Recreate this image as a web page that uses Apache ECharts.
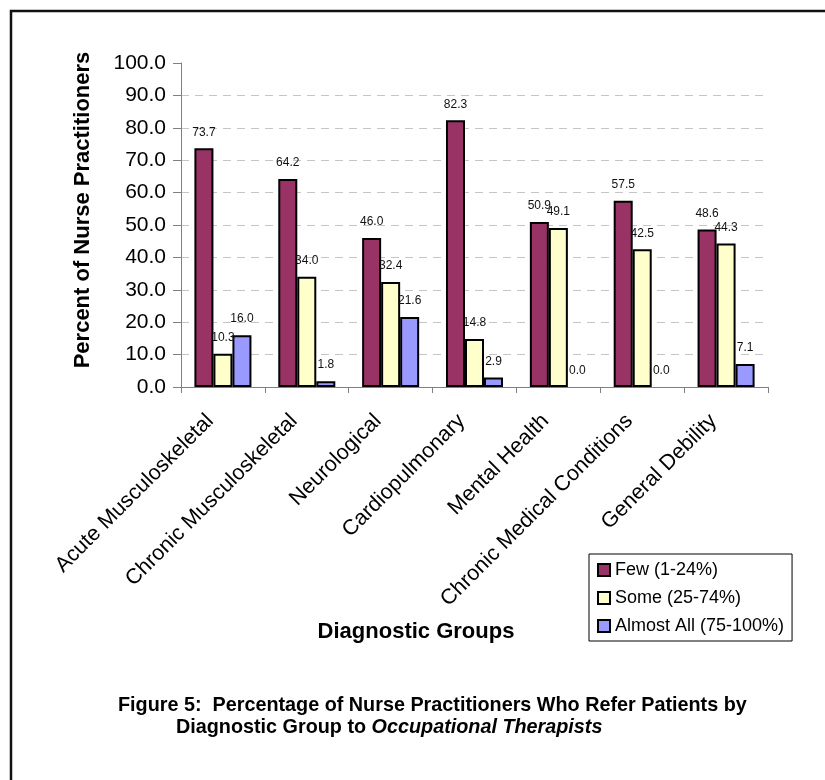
<!DOCTYPE html>
<html>
<head>
<meta charset="utf-8">
<script src="https://cdn.jsdelivr.net/npm/echarts@6/dist/echarts.min.js"></script>
<style>
  html, body { margin: 0; padding: 0; background: #fff; }
  #chart { width: 825px; height: 780px; }
</style>
</head>
<body>
<div id="chart"></div>
<script>
// Diagnostic groups on the category axis
const categories = [
  'Acute Musculoskeletal',
  'Chronic Musculoskeletal',
  'Neurological',
  'Cardiopulmonary',
  'Mental Health',
  'Chronic Medical Conditions',
  'General Debility'
];

// Share of nurse practitioners (%) by how many patients they refer
const seriesNames = ['Few (1-24%)', 'Some (25-74%)', 'Almost All (75-100%)'];
const few       = [73.7, 64.2, 46.0, 82.3, 50.9, 57.5, 48.6];
const some      = [10.3, 34.0, 32.4, 14.8, 49.1, 42.5, 44.3];
const almostAll = [16.0, 1.8, 21.6, 2.9, 0.0, 0.0, 7.1];

// Value axis range and step
const yMin = 0;
const yMax = 100;
const yStep = 10;

const yTitle = 'Percent of Nurse Practitioners';
const xTitle = 'Diagnostic Groups';
const captionLine1 = 'Figure 5:  Percentage of Nurse Practitioners Who Refer Patients by';
const captionLine2a = 'Diagnostic Group to ';
const captionLine2b = 'Occupational Therapists';

const FONT = '"Liberation Sans", Arial, Helvetica, sans-serif';
const colors = ['#993366', '#FFFFCC', '#9999FF'];

function makeSeries(name, values, color) {
  return {
    name: name,
    type: 'bar',
    barGap: '0%',
    barCategoryGap: '32%',
    itemStyle: { color: color, borderColor: '#000', borderWidth: 2 },
    label: {
      show: true,
      position: 'top',
      distance: 10,
      fontFamily: FONT,
      fontSize: 12,
      color: '#111',
      formatter: p => Number(p.value).toFixed(1)
    },
    // zero-height bars get no outline, only their label
    data: values.map(v => v === 0 ? { value: v, itemStyle: { borderWidth: 0 } } : v)
  };
}

const chart = echarts.init(document.getElementById('chart'), null, { renderer: 'canvas' });

chart.setOption({
  backgroundColor: '#fff',
  animation: false,
  textStyle: { fontFamily: FONT },
  grid: { left: 181, right: 57, top: 63, bottom: 393, containLabel: false },
  legend: {
    orient: 'vertical',
    left: 589,
    top: 554,
    padding: [7, 8, 6, 8],
    itemGap: 10,
    itemWidth: 12,
    itemHeight: 12,
    icon: 'rect',
    borderColor: '#000',
    borderWidth: 1,
    backgroundColor: '#fff',
    textStyle: { fontFamily: FONT, fontSize: 18, color: '#000' },
    data: seriesNames
  },
  xAxis: {
    type: 'category',
    data: categories,
    axisLine: { show: true, lineStyle: { color: '#808080', width: 1 } },
    axisTick: { show: true, length: 6, lineStyle: { color: '#808080' } },
    axisLabel: {
      rotate: 45,
      margin: 18,
      padding: [0, 18, 0, 0],
      fontFamily: FONT,
      fontSize: 21.5,
      color: '#000',
      interval: 0
    },
    splitLine: { show: false }
  },
  yAxis: {
    type: 'value',
    min: yMin,
    max: yMax,
    interval: yStep,
    axisLine: { show: true, lineStyle: { color: '#808080', width: 1 } },
    axisTick: { show: true, length: 8, lineStyle: { color: '#808080' } },
    axisLabel: {
      margin: 15,
      fontFamily: FONT,
      fontSize: 21,
      color: '#000',
      formatter: v => v.toFixed(1)
    },
    splitLine: {
      show: true,
      showMinLine: false,
      showMaxLine: false,
      lineStyle: { color: '#c4c4c4', type: [8, 6], width: 1 }
    }
  },
  graphic: [
    {
      type: 'rect',
      silent: true,
      shape: { x: 11, y: 11, width: 900, height: 900 },
      style: { fill: 'none', stroke: '#111', lineWidth: 2.5 }
    },
    {
      type: 'text',
      x: 83,
      y: 210,
      rotation: Math.PI / 2,
      style: {
        text: yTitle,
        fontFamily: FONT,
        fontWeight: 'bold',
        fontSize: 22,
        fill: '#000',
        align: 'center',
        verticalAlign: 'middle'
      }
    },
    {
      type: 'text',
      x: 416,
      y: 632,
      style: {
        text: xTitle,
        fontFamily: FONT,
        fontWeight: 'bold',
        fontSize: 22,
        fill: '#000',
        align: 'center',
        verticalAlign: 'middle'
      }
    },
    {
      type: 'text',
      x: 118,
      y: 706,
      style: {
        text: captionLine1,
        fontFamily: FONT,
        fontWeight: 'bold',
        fontSize: 19.8,
        fill: '#000',
        align: 'left',
        verticalAlign: 'middle'
      }
    },
    {
      type: 'text',
      x: 176,
      y: 728,
      style: {
        text: '{n|' + captionLine2a + '}{i|' + captionLine2b + '}',
        align: 'left',
        verticalAlign: 'middle',
        rich: {
          n: { fontFamily: FONT, fontWeight: 'bold', fontSize: 19.8, fill: '#000', color: '#000' },
          i: { fontFamily: FONT, fontWeight: 'bold', fontStyle: 'italic', fontSize: 19.8, fill: '#000', color: '#000' }
        }
      }
    }
  ],
  series: [
    makeSeries(seriesNames[0], few, colors[0]),
    makeSeries(seriesNames[1], some, colors[1]),
    makeSeries(seriesNames[2], almostAll, colors[2])
  ]
});
</script>
</body>
</html>
